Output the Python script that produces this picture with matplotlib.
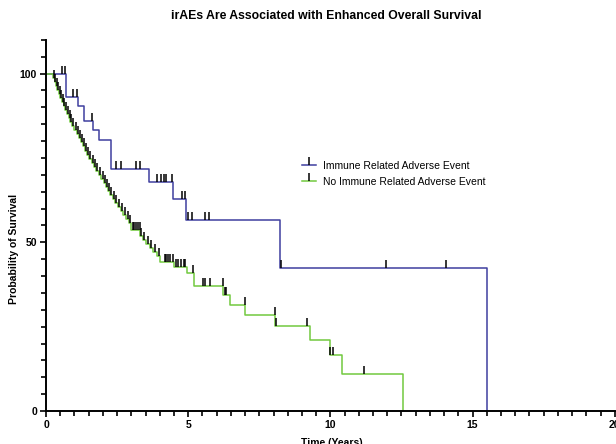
import matplotlib.pyplot as plt
import numpy as np
from matplotlib.ticker import MultipleLocator

plt.rcParams['font.family'] = ['Liberation Sans', 'DejaVu Sans']

# Kaplan-Meier steps: (time in years, survival % after the drop)
irae_times = [0, 0.71, 1.14, 1.34, 1.64, 1.88, 2.30, 3.63, 4.46, 4.93, 8.24, 15.5]
irae_surv = [100, 93.1, 90.4, 86.0, 83.4, 80.4, 71.8, 67.9, 62.9, 56.7, 42.5, 0]
irae_cens = [0.55, 0.67, 0.96, 1.08, 1.62, 2.47, 2.64, 3.15, 3.29, 3.90, 4.04,
             4.15, 4.23, 4.43, 4.79, 4.88, 4.99, 5.12, 5.60, 5.74, 8.27, 11.95, 14.06]

no_times = [0, 0.25, 0.30, 0.35, 0.40, 0.45, 0.50, 0.56, 0.62, 0.68, 0.74, 0.80,
            0.86, 0.92, 1.00, 1.08, 1.15, 1.22, 1.30, 1.37, 1.44, 1.52, 1.60,
            1.68, 1.76, 1.85, 1.95, 2.03, 2.10, 2.18, 2.26, 2.34, 2.42, 2.52,
            2.62, 2.72, 2.82, 2.92, 3.00, 3.30, 3.40, 3.52, 3.64, 3.76, 3.90,
            4.02, 4.50, 4.95, 5.20, 6.24, 6.46, 7.00, 8.06, 9.30, 9.98, 10.40, 12.55]
no_surv = [100, 98.8, 97.6, 96.4, 95.2, 94.0, 92.8, 91.6, 90.4, 89.2, 88.0, 86.8,
           85.6, 84.4, 83.2, 82.0, 80.8, 79.6, 78.4, 77.2, 76.0, 74.8, 73.6,
           72.4, 71.2, 70.0, 68.8, 67.6, 66.4, 65.2, 64.0, 62.8, 61.6, 60.4,
           59.2, 58.0, 56.8, 55.6, 53.5, 52.0, 50.8, 49.6, 48.4, 47.2, 46.0,
           44.2, 42.7, 40.9, 37.0, 34.4, 31.5, 28.5, 25.2, 21.1, 16.6, 11.0, 0]
no_cens = [0.28, 0.33, 0.38, 0.43, 0.48, 0.53, 0.59, 0.65, 0.71, 0.77, 0.83, 0.89,
           0.96, 1.04, 1.11, 1.18, 1.26, 1.33, 1.40, 1.48, 1.56, 1.64, 1.72, 1.80,
           1.90, 1.99, 2.06, 2.14, 2.22, 2.30, 2.38, 2.47, 2.57, 2.67, 2.77, 2.87,
           2.96, 3.05, 3.10, 3.17, 3.22, 3.29, 3.35, 3.46, 3.58, 3.70, 3.82, 3.96,
           4.17, 4.23, 4.29, 4.35, 4.46, 4.58, 4.64, 4.76, 4.84, 4.87, 5.17,
           5.52, 5.58, 5.75, 6.21, 6.30, 6.34, 6.99, 8.04, 8.10, 9.18, 9.98,
           10.10, 11.18]

blue = '#3f3f9f'
green = '#72c93f'
tick_marker = [(0, 0), (0, 1)]


def surv_at(times, surv, t):
    idx = np.searchsorted(times, t, side='right') - 1
    return np.array(surv)[idx]


fig = plt.figure(figsize=(6.16, 4.44), dpi=100)
ax = fig.add_axes([0.0747, 0.0743, 0.9233, 0.836])

for times, surv, cens, col, lab in [
        (irae_times, irae_surv, irae_cens, blue, 'Immune Related Adverse Event'),
        (no_times, no_surv, no_cens, green, 'No Immune Related Adverse Event')]:
    ax.step(times, surv, where='post', color=col, lw=1.1, zorder=2)
    ax.plot(cens, surv_at(times, surv, cens), linestyle='none', marker=tick_marker,
            markersize=12, markeredgecolor='black', markeredgewidth=1.1, zorder=3)
    ax.plot([], [], color=col, lw=1.1, marker=tick_marker, markersize=12,
            markeredgecolor='black', markeredgewidth=1.1, label=lab)

ax.set_xlim(0, 20)
ax.set_ylim(0, 110)
ax.set_xticks([0, 5, 10, 15, 20])
ax.set_yticks([0, 50, 100])
ax.xaxis.set_minor_locator(MultipleLocator(0.5))
ax.yaxis.set_minor_locator(MultipleLocator(5))
ax.tick_params(which='both', direction='out', width=1.2, colors='black', labelsize=7.5, pad=2)
ax.tick_params(which='major', length=4.5)
ax.tick_params(which='minor', length=3.5)
for lbl in ax.get_xticklabels() + ax.get_yticklabels():
    lbl.set_fontweight('bold')
ax.spines['top'].set_visible(False)
ax.spines['right'].set_visible(False)
ax.spines['left'].set_linewidth(1.4)
ax.spines['bottom'].set_linewidth(1.4)

ax.set_xlabel('Time (Years)', fontsize=7.5, fontweight='bold')
ax.xaxis.set_label_coords(0.503, -0.072)
ax.set_ylabel('Probability of Survival', fontsize=7.5, fontweight='bold')
ax.yaxis.set_label_coords(-0.047, 0.437)
fig.suptitle('irAEs Are Associated with Enhanced Overall Survival', fontsize=8.8,
             fontweight='bold', x=0.529, y=0.977)

ax.legend(loc='upper left', bbox_to_anchor=(0.433, 0.70), frameon=False, fontsize=7.5,
          handlelength=1.35, handletextpad=0.7, labelspacing=0.6)

fig.savefig('out.png', dpi=100)
